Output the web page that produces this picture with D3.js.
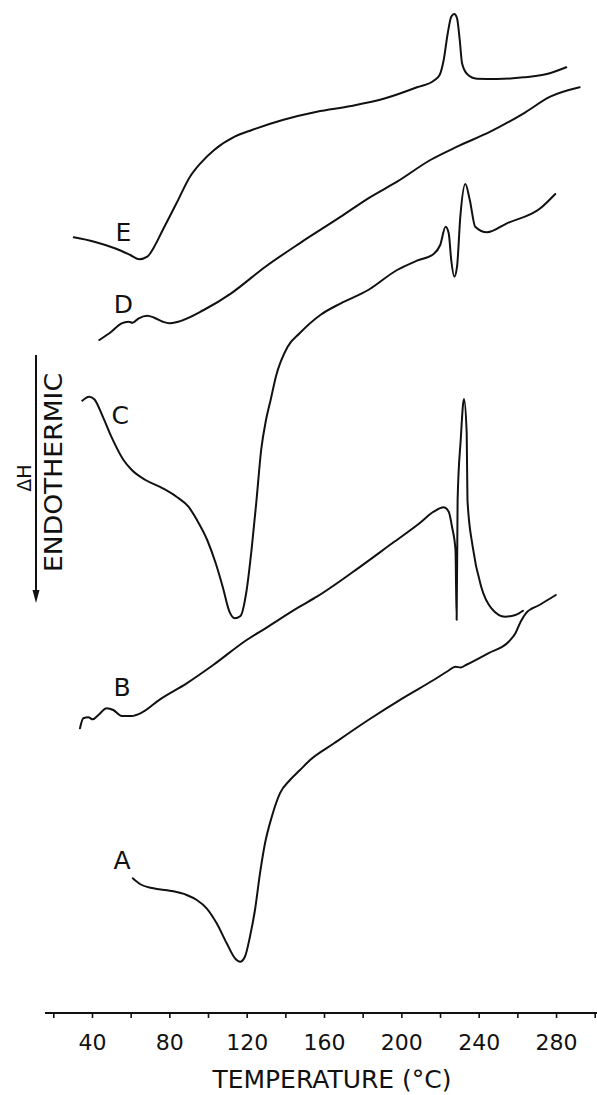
<!DOCTYPE html>
<html>
<head>
<meta charset="utf-8">
<script src="https://cdn.jsdelivr.net/npm/d3@7"></script>
<style>
  html, body { margin: 0; padding: 0; background: #fff; }
  svg { display: block; }
  text { font-family: "DejaVu Sans", sans-serif; fill: #111; }
</style>
</head>
<body>
<div id="chart"></div>
<script>
// ---- Data: DSC traces, [temperature °C, heat flow (arbitrary units, offset per trace)] ----
const curveA = [
  [61.1,10.17],[64.8,9.6],[71.7,9.17],[80.4,8.93],[89.0,8.5],[94.2,8.0],[99.3,7.17],
  [104.5,5.67],[109.7,3.67],[114.0,2.17],[116.6,1.83],[119.1,2.33],[121.7,4.33],
  [124.3,7.0],[126.9,10.67],[129.5,13.67],[133.0,16.33],[137.2,18.67],[142.4,20.0],
  [147.6,21.0],[152.8,22.0],[165.2,23.67],[182.9,26.0],[200.6,28.17],[216.7,30.0],
  [224.1,30.9],[228.0,31.33],[230.7,31.25],[233.4,31.5],[244.9,32.67],[255.5,33.83],
  [259.0,34.67],[261.7,35.83],[264.4,36.67],[271.4,37.5],[279.9,38.5]
];
const curveB = [
  [33.8,25.17],[35.5,26.17],[38.1,26.27],[40.4,26.07],[43.3,26.5],[47.6,27.17],[51.0,27.0],
  [55.4,26.4],[60.5,26.4],[65.7,26.73],[75.2,28.07],[89.0,29.67],[102.7,31.5],[120.0,34.0],
  [129.7,35.17],[147.4,37.33],[156.3,38.33],[174.0,40.67],[195.3,43.67],[209.4,45.67],
  [216.7,46.83],[221.9,47.27],[224.5,46.83],[226.2,45.33],[228.0,43.0],[228.6,36.0],
  [229.1,48.0],[230.7,54.0],[232.4,58.1],[233.8,54.67],[234.2,48.0],[236.9,43.33],
  [241.3,39.33],[246.6,37.17],[253.7,36.33],[259.0,36.5],[262.9,36.93]
];
const curveC = [
  [35.0,57.93],[38.5,58.33],[41.2,58.07],[45.6,56.33],[50.0,54.33],[56.3,52.0],[60.6,51.0],
  [67.7,50.0],[76.6,49.17],[83.7,48.33],[89.9,47.33],[94.3,46.0],[99.6,44.0],[104.0,41.67],
  [107.6,39.33],[111.1,36.83],[113.8,36.17],[116.8,36.4],[120.0,39.0],[122.7,43.33],
  [125.1,48.0],[127.5,53.0],[130.0,56.0],[132.4,58.0],
  [135.1,60.33],[141.2,63.33],[147.4,64.67],[158.1,66.5],[168.7,67.67],[182.9,69.0],
  [197.8,71.0],[208.1,71.93],[216.7,72.6],[220.1,73.5],[222.9,75.33],[224.5,74.67],
  [225.8,72.0],[227.4,70.33],[228.8,71.33],[230.5,76.33],[233.1,79.6],[235.4,78.0],
  [238.2,75.33],[244.3,74.77],[254.6,75.67],[271.9,77.17],[279.6,78.6]
];
const curveD = [
  [43.8,64.0],[50.0,64.83],[55.3,65.67],[58.9,65.83],[61.0,65.73],[64.2,66.17],[68.6,66.43],
  [72.2,66.23],[76.6,65.83],[80.1,65.67],[84.6,65.83],[97.8,67.0],[112.0,68.67],[129.7,71.33],
  [147.4,73.67],[168.7,76.33],[182.9,78.17],[197.8,79.83],[215.0,82.0],[228.8,83.33],
  [246.0,84.83],[263.3,86.67],[277.0,88.33],[292.2,89.27]
];
const curveE = [
  [30.6,74.27],[41.2,73.83],[51.8,73.17],[59.8,72.5],[64.6,72.07],[68.6,72.33],[72.2,73.33],
  [76.6,75.0],[83.7,77.67],[90.7,80.33],[96.1,81.67],[103.2,83.0],[113.8,84.33],[122.7,85.0],
  [138.6,86.0],[156.3,86.83],[174.0,87.4],[191.7,88.17],[208.1,89.27],[216.7,89.93],
  [219.8,90.5],[221.9,92.0],[224.0,94.67],[225.8,96.33],[227.4,96.6],[228.8,96.17],
  [230.2,94.0],[231.4,91.67],[234.0,90.6],[239.1,90.13],[249.5,90.1],[263.3,90.27],
  [275.3,90.6],[285.3,91.27]
];
const seriesNames = ["A","B","C","D","E"];
// label anchor positions in data units [temperature, heat flow]
const labelPos = [[55.6,11.1],[55.6,28.4],[54.6,55.6],[56.3,66.7],[56.3,73.9]];
const tickValues = [20,40,60,80,100,120,140,160,180,200,220,240,260,280,300];
const tickLabels = [40,80,120,160,200,240,280];
const xTitle = "TEMPERATURE (°C)";
const yTitle1 = "ΔH";
const yTitle2 = "ENDOTHERMIC";

// ---- Layout ----
const W = 597, H = 1095;
const axisY = 1013;
const svg = d3.select("#chart").append("svg").attr("width", W).attr("height", H);
svg.append("rect").attr("width", W).attr("height", H).attr("fill", "#fff");

const x = d3.scaleLinear().domain([20, 300]).range([53.3, 594.7]);
const y = d3.scaleLinear().domain([0, 98]).range([980, 0]);

const line = d3.line()
  .x(d => x(d[0])).y(d => y(d[1]))
  .curve(d3.curveMonotoneX);

const allCurves = [curveA, curveB, curveC, curveD, curveE];
svg.append("g").selectAll("path").data(allCurves).join("path")
  .attr("d", line)
  .attr("fill", "none")
  .attr("stroke", "#111")
  .attr("stroke-width", 2)
  .attr("stroke-linejoin", "round")
  .attr("stroke-linecap", "round");

svg.append("g").selectAll("text").data(seriesNames).join("text")
  .attr("x", (d, i) => x(labelPos[i][0]))
  .attr("y", (d, i) => y(labelPos[i][1]))
  .attr("text-anchor", "middle")
  .attr("font-size", 25)
  .text(d => d);

// ---- X axis ----
svg.append("line")
  .attr("x1", 45).attr("x2", 597).attr("y1", axisY).attr("y2", axisY)
  .attr("stroke", "#111").attr("stroke-width", 2);

const axis = d3.axisBottom(x)
  .tickValues(tickValues)
  .tickSize(5)
  .tickSizeOuter(0)
  .tickFormat(d => tickLabels.includes(d) ? String(d) : "");
const gAxis = svg.append("g").attr("transform", `translate(0,${axisY})`).call(axis);
gAxis.select(".domain").remove();
gAxis.selectAll(".tick line").attr("stroke", "#111").attr("stroke-width", 1.6);
gAxis.selectAll(".tick text")
  .attr("y", 37).attr("dy", 0)
  .attr("font-size", 22)
  .attr("font-family", "DejaVu Sans, sans-serif")
  .attr("fill", "#111");

svg.append("text")
  .attr("x", 332).attr("y", 1088)
  .attr("text-anchor", "middle")
  .attr("font-size", 25)
  .text(xTitle);

// ---- Y label with arrow ----
svg.append("line")
  .attr("x1", 36).attr("x2", 36).attr("y1", 355).attr("y2", 594)
  .attr("stroke", "#111").attr("stroke-width", 2);
svg.append("path")
  .attr("d", "M32.5,590 L39.5,590 L36,603 Z")
  .attr("fill", "#111");

svg.append("text")
  .attr("transform", "translate(31,478) rotate(-90)")
  .attr("text-anchor", "middle")
  .attr("font-size", 19)
  .text(yTitle1);
svg.append("text")
  .attr("transform", "translate(62,472.5) rotate(-90)")
  .attr("text-anchor", "middle")
  .attr("font-size", 24)
  .attr("textLength", 199)
  .attr("lengthAdjust", "spacingAndGlyphs")
  .text(yTitle2);
</script>
</body>
</html>
